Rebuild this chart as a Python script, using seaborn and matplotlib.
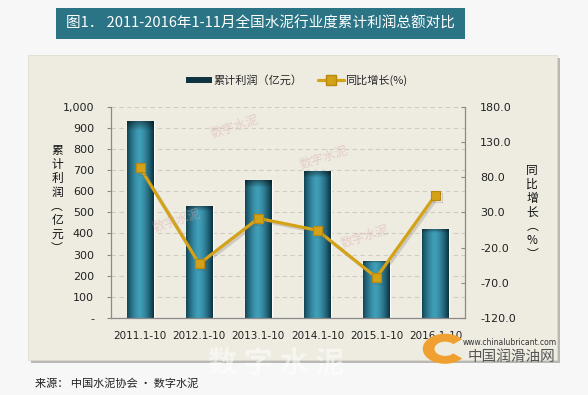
import numpy as np
import matplotlib
matplotlib.use("Agg")
import matplotlib.pyplot as plt
import matplotlib.patches as mpatches
import matplotlib.patheffects as pe
from matplotlib.lines import Line2D
import seaborn as sns

# data
periods = ["2011.1-10", "2012.1-10", "2013.1-10", "2014.1-10", "2015.1-10", "2016.1-10"]
profit = [933, 531, 652, 697, 270, 422]          # 累计利润（亿元）
growth = [93.0, -43.0, 21.5, 4.5, -62.5, 54.5]   # 同比增长(%)
left_ticks = [0, 100, 200, 300, 400, 500, 600, 700, 800, 900, 1000]
left_labels = ["-", "100", "200", "300", "400", "500", "600", "700", "800", "900", "1,000"]
right_ticks = [-120, -70, -20, 30, 80, 130, 180]
right_labels = ["-120.0", "-70.0", "-20.0", "30.0", "80.0", "130.0", "180.0"]

title = "图1． 2011-2016年1-11月全国水泥行业度累计利润总额对比"
source = "来源： 中国水泥协会 · 数字水泥"

sns.set_style("white")
plt.rcParams["font.family"] = ["DejaVu Sans", "Noto Sans CJK SC"]
cjk = ["Noto Sans CJK SC", "DejaVu Sans"]

fig = plt.figure(figsize=(5.88, 3.95), dpi=100)
fig.patch.set_facecolor("#f7f7f7")

# chart panel with a soft shadow
fig.patches.append(mpatches.Rectangle((0.052, 0.080), 0.8997, 0.772, transform=fig.transFigure,
                                      facecolor="#b9b8b2", edgecolor="none", zorder=-3))
fig.patches.append(mpatches.Rectangle((0.0476, 0.0886), 0.8997, 0.772, transform=fig.transFigure,
                                      facecolor="#eeebe1", edgecolor="#dcd9cf", lw=0.5, zorder=-2))
# title band
fig.patches.append(mpatches.Rectangle((0.0952, 0.9013), 0.6956, 0.0785, transform=fig.transFigure,
                                      facecolor="#2b7485", edgecolor="none", zorder=-1))
fig.text(0.443, 0.940, title, ha="center", va="center", color="white", fontsize=10.5, family=cjk)

ax = fig.add_axes([0.1883, 0.1949, 0.6025, 0.535])
ax.set_facecolor("none")

sns.barplot(x=periods, y=profit, ax=ax, width=0.45, color="#2a8aa0", zorder=2)

# cylinder-like shading on every bar (row 0 = top of bar)
def shade(nx=60, ny=120):
    dark = np.array([0.04, 0.20, 0.26])
    bright = np.array([0.25, 0.62, 0.72])
    xs = np.linspace(0, 1, nx)
    t = np.clip(np.abs(xs - 0.47) / 0.53, 0, 1) ** 1.5
    row = bright[None, :] * (1 - t[:, None]) + dark[None, :] * t[:, None]
    img = np.repeat(row[None, :, :], ny, axis=0)
    ys = np.linspace(0, 1, ny)
    top = np.clip(ys / 0.05, 0, 1)[:, None, None]
    img = img * (0.55 + 0.45 * top)
    return img

for p in ax.patches:
    x0, w, h = p.get_x(), p.get_width(), p.get_height()
    p.set_facecolor("none")
    im = ax.imshow(shade(), extent=(x0, x0 + w, 0, h), aspect="auto", zorder=2,
                   origin="upper")
    im.set_clip_path(p)

ax.set_xlim(-0.5, 5.5)
ax.set_ylim(0, 1000)
ax.set_yticks(left_ticks)
ax.set_yticklabels(left_labels)
ax.set_xlabel("")
ax.set_ylabel("")
ax.yaxis.grid(True, linestyle=(0, (4, 3)), color="#cfccc4", lw=0.8, zorder=0)
ax.set_axisbelow(True)
ax.set_xticks(np.arange(-0.5, 6, 1), minor=True)
ax.tick_params(axis="x", which="major", length=0, pad=9, labelsize=7.5, colors="#222222")
ax.tick_params(axis="x", which="minor", length=5, color="#8a8a8a", width=0.8)
ax.tick_params(axis="y", length=3, color="#8a8a8a", width=0.8, pad=9, labelsize=8,
               labelcolor="#222222", direction="out")
for s in ["top", "right"]:
    ax.spines[s].set_visible(False)
for s in ["left", "bottom"]:
    ax.spines[s].set_color("#8a8a8a")
    ax.spines[s].set_linewidth(0.9)

ax2 = ax.twinx()
sns.pointplot(x=periods, y=growth, ax=ax2, color="#d4a217", markers="s", linestyles="-",
              markersize=6.5, linewidth=2.3, markeredgecolor="#b9870e", markeredgewidth=0.8,
              zorder=4)
for ln in ax2.lines:
    ln.set_path_effects([pe.SimpleLineShadow(offset=(1.5, -1.5), shadow_color="#555555", alpha=0.22),
                         pe.Normal()])
ax2.set_xlim(-0.5, 5.5)
ax2.set_ylim(-120, 180)
ax2.set_yticks(right_ticks)
ax2.set_yticklabels(right_labels)
ax2.set_ylabel("")
ax2.tick_params(axis="y", length=3, direction="in", color="#8a8a8a", width=0.8, pad=11,
                labelsize=8, labelcolor="#222222")
for s in ["top", "left", "bottom"]:
    ax2.spines[s].set_visible(False)
ax2.spines["right"].set_color("#8a8a8a")
ax2.spines["right"].set_linewidth(0.9)

# vertical axis titles
fig.text(0.097, 0.495, "\n".join("累计利润︵亿元︶"), ha="center", va="center",
         fontsize=8.5, family=cjk, linespacing=1.1, color="#111111")
fig.text(0.905, 0.463, "\n".join("同比增长︵%︶"), ha="center", va="center",
         fontsize=8.5, family=cjk, linespacing=1.1, color="#111111")

# legend
h1 = mpatches.Rectangle((0, 0), 1, 1, facecolor="#0f3340", edgecolor="none")
h2 = Line2D([], [], color="#d4a217", lw=2.3, marker="s", markersize=6.5,
            markerfacecolor="#d4a217", markeredgecolor="#b9870e")
leg = fig.legend([h1, h2], ["累计利润（亿元）", "同比增长(%)"], loc="center",
                 bbox_to_anchor=(0.505, 0.797), ncol=2, frameon=False,
                 prop={"family": cjk, "size": 8}, handlelength=2.3, handleheight=0.45,
                 handletextpad=0.15, columnspacing=1.4)

# watermarks
fig.text(0.47, 0.083, "数 字 水 泥", ha="center", va="center", fontsize=21, family=cjk,
         color="white", alpha=0.5, fontweight="bold", zorder=1)
for wx, wy in [(0.40, 0.68), (0.30, 0.44), (0.55, 0.60), (0.62, 0.40)]:
    fig.text(wx, wy, "数字水泥", rotation=18, fontsize=9, family=cjk, color="#d8a8a8",
             alpha=0.45, ha="center", va="center")

# logo, bottom right
fig.patches.append(mpatches.Wedge((0.757, 0.117), 0.038, 40, 320, width=0.02,
                                  transform=fig.transFigure, facecolor="#f0a030",
                                  edgecolor="none", zorder=5))
fig.text(0.787, 0.134, "www.chinalubricant.com", fontsize=5.5, color="#333333",
         ha="left", va="center", zorder=6)
fig.text(0.795, 0.095, "中国润滑油网", fontsize=10.5, family=cjk, color="#555555",
         ha="left", va="center", zorder=6)

fig.text(0.06, 0.030, source, fontsize=8, family=cjk, color="#222222", ha="left", va="center")

fig.savefig("out.png", dpi=100, facecolor=fig.get_facecolor())
